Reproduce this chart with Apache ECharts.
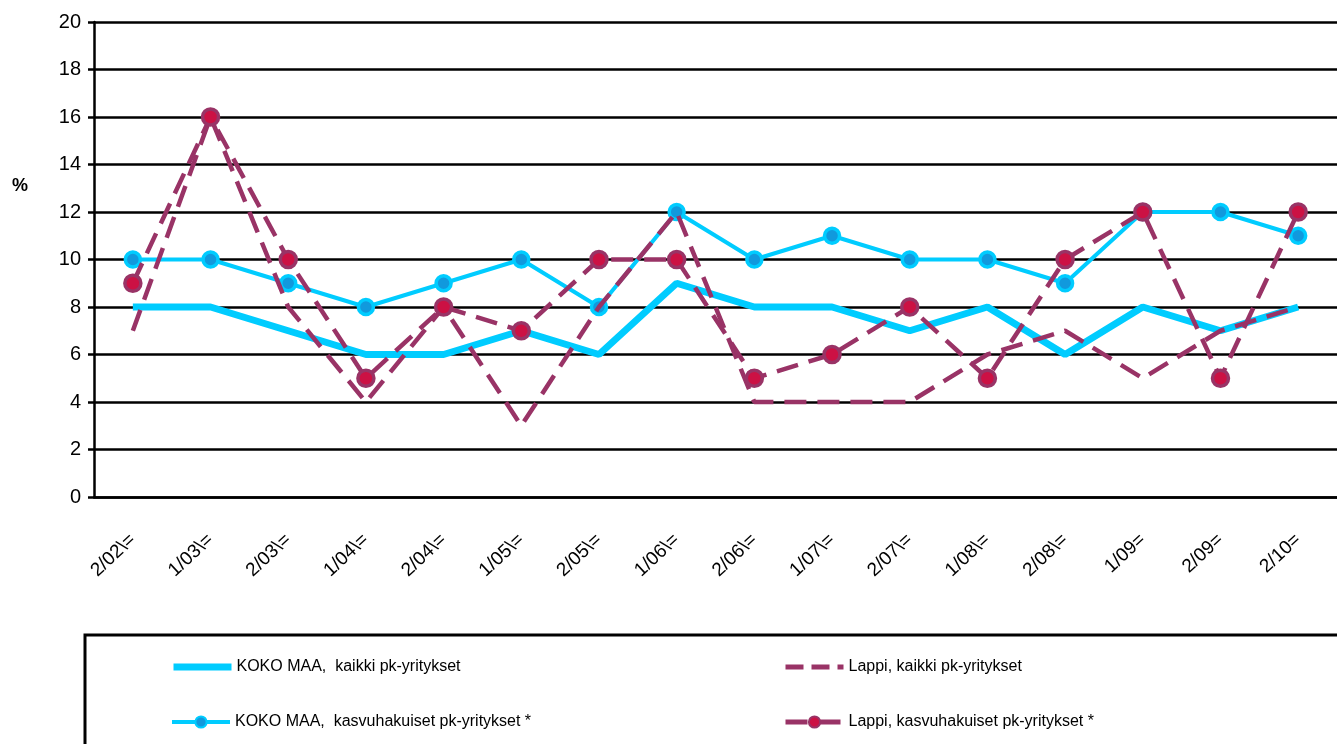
<!DOCTYPE html>
<html>
<head>
<meta charset="utf-8">
<script src="https://cdn.jsdelivr.net/npm/echarts@6/dist/echarts.min.js"></script>
<style>
  html, body { margin: 0; padding: 0; background: #fff; }
  #chart { width: 1337px; height: 744px; }
</style>
</head>
<body>
<div id="chart"></div>
<script>
// kausi (puolivuosi/vuosi)
const categories = ['2/02\\=', '1/03\\=', '2/03\\=', '1/04\\=', '2/04\\=', '1/05\\=', '2/05\\=', '1/06\\=',
  '2/06\\=', '1/07\\=', '2/07\\=', '1/08\\=', '2/08\\=', '1/09=', '2/09=', '2/10='];

const kokoKaikki = [8, 8, 7, 6, 6, 7, 6, 9, 8, 8, 7, 8, 6, 8, 7, 8];
const kokoKasvu = [10, 10, 9, 8, 9, 10, 8, 12, 10, 11, 10, 10, 9, 12, 12, 11];
const lappiKaikki = [7, 16, 8, 4, 8, 3, 8, 12, 4, 4, 4, 6, 7, 5, 7, 8];
const lappiKasvu = [9, 16, 10, 5, 8, 7, 10, 10, 5, 6, 8, 5, 10, 12, 5, 12];

const names = ['KOKO MAA,  kaikki pk-yritykset', 'KOKO MAA,  kasvuhakuiset pk-yritykset *',
  'Lappi, kaikki pk-yritykset', 'Lappi, kasvuhakuiset pk-yritykset *'];

const cyan = '#00CCFF';
const purple = '#993366';
const font = 'Liberation Sans, Arial, sans-serif';
const dash = [22, 11];

const myChart = echarts.init(document.getElementById('chart'));

// yksi legenda per sarja, jotta paikat saa kohdalleen
function legendAt(item, left, top) {
  return {
    data: [item],
    left: left,
    top: top,
    padding: 0,
    itemWidth: 58,
    itemHeight: 14,
    itemGap: 2,
    textStyle: { fontFamily: font, fontSize: 16, color: '#000' }
  };
}

const option = {
  animation: false,
  backgroundColor: '#fff',
  grid: { left: 94, top: 22, width: 1251, bottom: 247 },
  graphic: [
    {
      type: 'rect',
      shape: { x: 85, y: 635, width: 1300, height: 200 },
      style: { fill: 'none', stroke: '#000', lineWidth: 3 },
      z: -1
    },
    {
      type: 'text',
      left: 12,
      top: 177,
      style: { text: '%', font: 'bold 18px ' + font, fill: '#000' }
    }
  ],
  legend: [
    legendAt({ name: names[0], itemStyle: { opacity: 0 }, lineStyle: { width: 7, color: cyan } }, 170, 659),
    legendAt({ name: names[1], lineStyle: { width: 4, color: cyan } }, 170, 714),
    legendAt({ name: names[2], itemStyle: { opacity: 0 }, lineStyle: { width: 5, color: purple, type: [18, 8] } }, 783, 659),
    legendAt({ name: names[3], lineStyle: { width: 5, color: purple } }, 783, 714)
  ],
  xAxis: {
    type: 'category',
    data: categories,
    boundaryGap: true,
    axisLine: { lineStyle: { color: '#000', width: 2.5 } },
    axisTick: { show: false },
    axisLabel: {
      rotate: 43,
      margin: 40,
      interval: 0,
      fontFamily: font,
      fontSize: 19,
      color: '#000'
    }
  },
  yAxis: {
    type: 'value',
    min: 0,
    max: 20,
    interval: 2,
    axisLine: { show: true, lineStyle: { color: '#000', width: 2.5 } },
    axisTick: { show: true, length: 6, lineStyle: { color: '#000', width: 2.5 } },
    axisLabel: { fontFamily: font, fontSize: 20, color: '#000', margin: 13 },
    splitLine: { lineStyle: { color: '#000', width: 2.5 } }
  },
  series: [
    {
      name: names[0],
      type: 'line',
      data: kokoKaikki,
      symbol: 'none',
      lineStyle: { color: cyan, width: 7 },
      itemStyle: { color: cyan },
      z: 2
    },
    {
      name: names[1],
      type: 'line',
      data: kokoKasvu,
      symbol: 'circle',
      symbolSize: 15,
      lineStyle: { color: cyan, width: 4 },
      itemStyle: { color: '#1199DD', borderColor: cyan, borderWidth: 3.5 },
      z: 3
    },
    {
      name: names[2],
      type: 'line',
      data: lappiKaikki,
      symbol: 'none',
      lineStyle: { color: purple, width: 4.5, type: dash },
      itemStyle: { color: purple },
      z: 4
    },
    {
      name: names[3],
      type: 'line',
      data: lappiKasvu,
      symbol: 'circle',
      symbolSize: 16,
      lineStyle: { color: purple, width: 4.5, type: dash },
      itemStyle: { color: '#CC1144', borderColor: purple, borderWidth: 3.5 },
      z: 5
    }
  ]
};

myChart.setOption(option);
</script>
</body>
</html>
